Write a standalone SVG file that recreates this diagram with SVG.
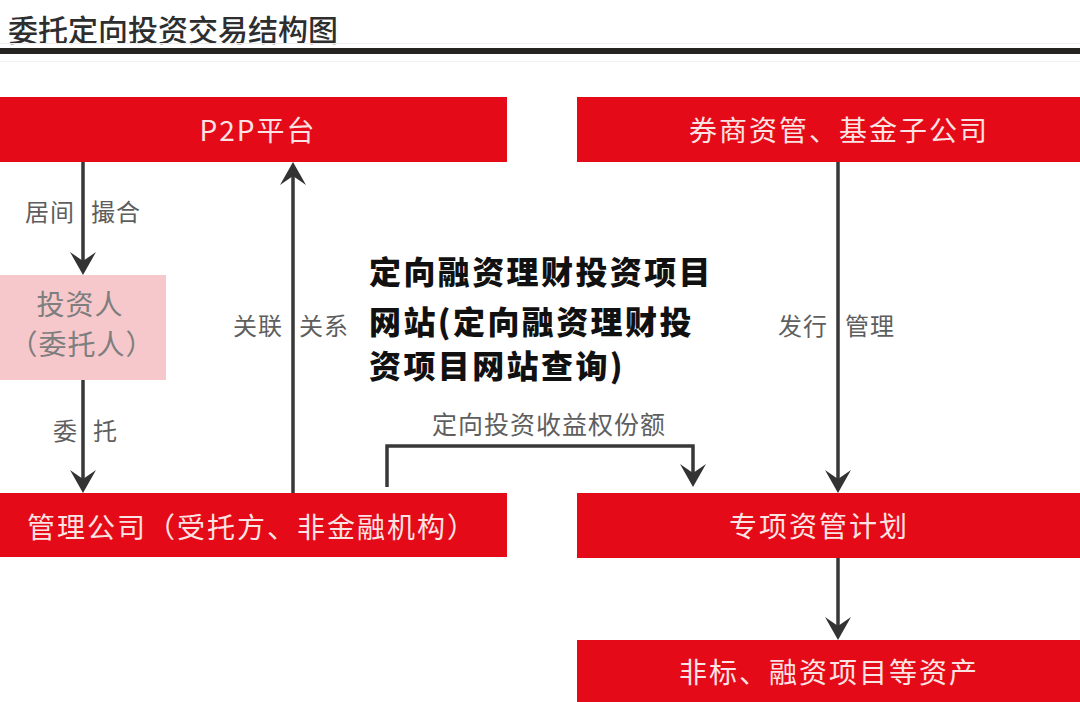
<svg xmlns="http://www.w3.org/2000/svg" width="1080" height="702" viewBox="0 0 1080 702">
<style>
  .box{fill:#e50a18;}
  .pink{fill:#f6c8cb;}
  .bt{font-family:"Noto Sans CJK SC","Liberation Sans",sans-serif;font-size:28px;fill:#fbe3e3;text-anchor:middle;letter-spacing:2px;}
  .pt{font-family:"Noto Sans CJK SC","Liberation Sans",sans-serif;font-size:28px;fill:#7e7e7e;text-anchor:middle;letter-spacing:1px;}
  .lb{font-family:"Noto Sans CJK SC","Liberation Sans",sans-serif;font-size:24px;fill:#5e5e5e;letter-spacing:1px;}
  .title{font-family:"Noto Sans CJK SC","Liberation Sans",sans-serif;font-size:30px;fill:#2e2e2e;font-weight:500;}
  .wm{font-family:"Noto Sans CJK SC","Liberation Sans",sans-serif;font-size:32px;fill:#111;font-weight:900;letter-spacing:2.4px;}
  .ln{stroke:#383838;stroke-width:3.5;fill:none;}
</style>
<defs>
  <marker id="ah" viewBox="-24 -15 26 30" refX="-9" refY="0" markerWidth="26" markerHeight="30" markerUnits="userSpaceOnUse" orient="auto">
    <path d="M0,0 L-23,-13 L-14,0 L-23,13 Z" fill="#333"/>
  </marker>
</defs>
<rect width="1080" height="702" fill="#fff"/>
<g id="title">
  <text class="title" x="8" y="41">委托定向投资交易结构图</text>
  <rect x="0" y="48" width="1080" height="6" fill="#262420"/>
  <line x1="0" y1="43.5" x2="1080" y2="43.5" stroke="#eeeeee" stroke-width="1"/>
  <line x1="0" y1="61.5" x2="1080" y2="61.5" stroke="#f2f2f2" stroke-width="1"/>
</g>
<g id="connectors">
  <line class="ln" x1="83" y1="162" x2="83" y2="266" marker-end="url(#ah)"/>
  <line class="ln" x1="83" y1="380" x2="83" y2="484" marker-end="url(#ah)"/>
  <line class="ln" x1="293" y1="493" x2="293" y2="171" marker-end="url(#ah)"/>
  <path class="ln" d="M387,487 L387,446 L693,446 L693,478" marker-end="url(#ah)"/>
  <line class="ln" x1="838" y1="162" x2="838" y2="484" marker-end="url(#ah)"/>
  <line class="ln" x1="838" y1="558" x2="838" y2="631" marker-end="url(#ah)"/>
  <text class="lb" x="25" y="221">居间</text>
  <text class="lb" x="91" y="221">撮合</text>
  <text class="lb" x="53" y="440">委</text>
  <text class="lb" x="93" y="440">托</text>
  <text class="lb" x="233" y="335">关联</text>
  <text class="lb" x="299" y="335">关系</text>
  <text class="lb" x="778" y="335">发行</text>
  <text class="lb" x="845" y="335">管理</text>
  <text class="lb" x="432" y="434" style="font-size:25px">定向投资收益权份额</text>
</g>
<g id="node-p2p">
  <rect class="box" x="0" y="97" width="507" height="65"/>
  <text class="bt" x="258" y="141">P2P平台</text>
</g>
<g id="node-broker">
  <rect class="box" x="577" y="97" width="503" height="65"/>
  <text class="bt" x="839" y="141">券商资管、基金子公司</text>
</g>
<g id="node-investor">
  <rect class="pink" x="0" y="275" width="166" height="105"/>
  <text class="pt" x="80" y="315">投资人</text>
  <text class="pt" x="82" y="355">（委托人）</text>
</g>
<g id="node-manager">
  <rect class="box" x="0" y="493" width="507" height="64"/>
  <text class="bt" x="252" y="538">管理公司（受托方、非金融机构）</text>
</g>
<g id="node-plan">
  <rect class="box" x="577" y="493" width="503" height="65"/>
  <text class="bt" x="819" y="537">专项资管计划</text>
</g>
<g id="node-assets">
  <rect class="box" x="577" y="640" width="503" height="62"/>
  <text class="bt" x="829" y="683">非标、融资项目等资产</text>
</g>
<g id="watermark">
  <text class="wm" x="369" y="284">定向融资理财投资项目</text>
  <text class="wm" x="369" y="334">网站(定向融资理财投</text>
  <text class="wm" x="369" y="378">资项目网站查询)</text>
</g>
</svg>
